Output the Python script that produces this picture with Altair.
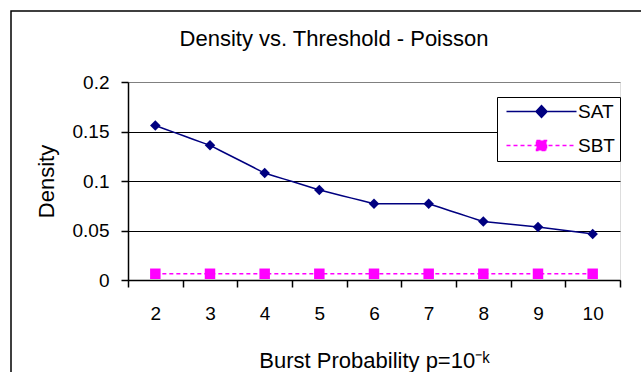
import altair as alt
import pandas as pd

# ---- data ----
k_values = [2, 3, 4, 5, 6, 7, 8, 9, 10]
sat_density = [0.156, 0.136, 0.108, 0.091, 0.077, 0.077, 0.059, 0.0535, 0.0465]
sbt_density = [0.0063, 0.0063, 0.0063, 0.0063, 0.0063, 0.0063, 0.0063, 0.0063, 0.0063]
series_names = ["SAT", "SBT"]
series_colors = ["#000080", "#FF00FF"]
y_tick_values = [0, 0.05, 0.1, 0.15, 0.2]
x_tick_edges = [1.5, 2.5, 3.5, 4.5, 5.5, 6.5, 7.5, 8.5, 9.5, 10.5]

rows = []
for k, v in zip(k_values, sat_density):
    rows.append({"k": k, "series": "SAT", "density": v})
for k, v in zip(k_values, sbt_density):
    rows.append({"k": k, "series": "SBT", "density": v})
df = pd.DataFrame(rows)

FONT = "Liberation Sans"
W, H = 492, 198

legend_path_sat = "M-1,0L13,0M6,-1.2L7.1,0L6,1.2L4.9,0Z"
legend_path_sbt = "M-1,0L13,0M5,-1L7,-1L7,1L5,1Z"

legend = alt.Legend(
    orient="none",
    legendX=369,
    legendY=15,
    title=None,
    fillColor="white",
    strokeColor="black",
    padding=5,
    labelFont=FONT,
    labelFontSize=19,
    labelColor="black",
    labelOffset=57,
    rowPadding=14,
    symbolSize=100,
    symbolStrokeWidth=1.5,
    symbolType={"expr": f"datum.value == 'SAT' ? '{legend_path_sat}' : '{legend_path_sbt}'"},
    symbolFillColor={"expr": f"datum.value == 'SAT' ? '{series_colors[0]}' : '{series_colors[1]}'"},
    symbolStrokeColor={"expr": f"datum.value == 'SAT' ? '{series_colors[0]}' : '{series_colors[1]}'"},
    symbolDash={"expr": "datum.value == 'SBT' ? [4, 3] : [10, 0]"},
)

x_enc = alt.X(
    "k:Q",
    scale=alt.Scale(domain=[1.5, 10.5], nice=False, zero=False),
    axis=alt.Axis(
        values=x_tick_edges,
        labelExpr="datum.value < 10 ? format(datum.value + 0.5, 'd') : ''",
        labelOffset=27.3,
        labelFlush=False,
        labelOverlap=False,
        grid=False,
        tickSize=7,
        tickWidth=1.5,
        tickColor="black",
        domainColor="black",
        domainWidth=1.5,
        labelFont=FONT,
        labelFontSize=19,
        labelColor="black",
        labelPadding=17,
        title="Burst Probability p=10⁻ᵏ",
        titleFont=FONT,
        titleFontSize=22,
        titleFontWeight="normal",
        titleColor="black",
        titlePadding=27,
    ),
)

y_enc = alt.Y(
    "density:Q",
    scale=alt.Scale(domain=[0, 0.2], nice=False),
    axis=alt.Axis(
        values=y_tick_values,
        format="~g",
        grid=True,
        gridColor={"condition": {"test": "datum.value >= 0.2", "value": "#808080"}, "value": "black"},
        gridWidth=1,
        tickSize=7,
        tickWidth=1.5,
        tickColor="black",
        domainColor="black",
        domainWidth=1.5,
        labelFont=FONT,
        labelFontSize=19,
        labelColor="black",
        labelPadding=12,
        labelFlush=False,
        title="Density",
        titleFont=FONT,
        titleFontSize=22,
        titleFontWeight="normal",
        titleColor="black",
        titlePadding=14,
    ),
)

color_scale = alt.Scale(domain=series_names, range=series_colors)

lines = alt.Chart(df).mark_line(strokeWidth=1.5).encode(
    x=x_enc,
    y=y_enc,
    color=alt.Color("series:N", scale=color_scale, legend=legend),
    strokeDash=alt.StrokeDash(
        "series:N",
        scale=alt.Scale(domain=series_names, range=[[10, 0], [4, 3]]),
        legend=None,
    ),
)

points = alt.Chart(df).mark_point(filled=True, opacity=1, size=110).encode(
    x=x_enc,
    y=y_enc,
    color=alt.Color("series:N", scale=color_scale, legend=None),
    shape=alt.Shape(
        "series:N",
        scale=alt.Scale(domain=series_names, range=["diamond", "square"]),
        legend=None,
    ),
)

frame = alt.Chart(pd.DataFrame({"a": [0]})).mark_rect(
    fillOpacity=0, stroke="black", strokeWidth=1.5
).encode(
    x=alt.value(-117), x2=alt.value(560), y=alt.value(-71), y2=alt.value(330)
)

chart = alt.layer(frame, lines, points).resolve_legend(
    color="independent", shape="independent", strokeDash="independent"
).properties(
    width=W,
    height=H,
    title=alt.TitleParams(
        "Density vs. Threshold - Poisson",
        font=FONT,
        fontSize=22,
        fontWeight="normal",
        color="black",
        anchor="middle",
        frame="group",
        dx=-40,
        offset=0,
        dy=58,
        baseline="alphabetic",
    ),
    autosize=alt.AutoSizeParams(type="none"),
    padding={"left": 128, "top": 82, "right": 21, "bottom": 92},
).configure_view(
    stroke="#808080", strokeWidth=1
).configure(background="white")

chart.save("out.html", embed_options={"renderer": "svg", "actions": False})
